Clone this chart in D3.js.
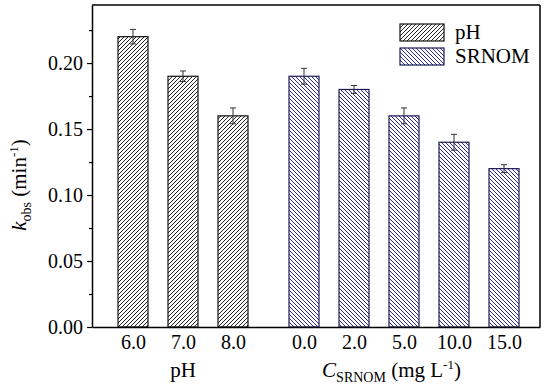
<!DOCTYPE html>
<html>
<head>
<meta charset="utf-8">
<script src="https://cdn.jsdelivr.net/npm/d3@7"></script>
<style>
  body { margin: 0; background: #fff; }
  svg text { font-family: "Liberation Serif", serif !important; fill: #000; }
</style>
</head>
<body>
<svg id="chart"></svg>
<script>
// Data
const phLabels = ['6.0', '7.0', '8.0'];
const phValues = [0.220, 0.190, 0.160];
const phErrors = [0.0055, 0.004, 0.006];

const srnomLabels = ['0.0', '2.0', '5.0', '10.0', '15.0'];
const srnomValues = [0.190, 0.180, 0.160, 0.140, 0.120];
const srnomErrors = [0.006, 0.003, 0.006, 0.006, 0.003];

const yTicks = [0.00, 0.05, 0.10, 0.15, 0.20];
const seriesNames = ['pH', 'SRNOM'];

const serif = 'Liberation Serif';

// Dimensions
const W = 550, H = 387;
const margin = { top: 5, right: 10, bottom: 60, left: 92 };
const width = W - margin.left - margin.right;
const height = H - margin.top - margin.bottom;

const svg = d3.select('#chart')
    .attr('width', W)
    .attr('height', H)
    .attr('font-family', serif);

// hatch patterns
const defs = svg.append('defs');
defs.append('pattern')
    .attr('id', 'hatchPH')
    .attr('patternUnits', 'userSpaceOnUse')
    .attr('width', 4).attr('height', 4)
    .append('path')
    .attr('d', 'M-1,1 l2,-2 M0,4 l4,-4 M3,5 l2,-2')
    .attr('stroke', '#222').attr('stroke-width', 1);
defs.append('pattern')
    .attr('id', 'hatchSR')
    .attr('patternUnits', 'userSpaceOnUse')
    .attr('width', 4).attr('height', 4)
    .append('path')
    .attr('d', 'M-1,3 l2,2 M0,0 l4,4 M3,-1 l2,2')
    .attr('stroke', '#2a2aa0').attr('stroke-width', 1);

const g = svg.append('g')
    .attr('transform', `translate(${margin.left},${margin.top})`);

// x in "bar slot" units, the SRNOM group is shifted to leave a gap
const slot = 50;
const firstOffset = 0.82;
const groupGap = 0.42;
const xScale = d3.scaleLinear()
    .domain([0, width / slot])
    .range([0, width]);

const bars = [];
phValues.forEach((v, i) => bars.push({ label: phLabels[i], value: v, err: phErrors[i], series: 'pH', pos: firstOffset + i }));
srnomValues.forEach((v, i) => bars.push({ label: srnomLabels[i], value: v, err: srnomErrors[i], series: 'SRNOM', pos: firstOffset + phValues.length + groupGap + i }));

const yScale = d3.scaleLinear()
    .domain([0, 0.244])
    .range([height, 0]);

const barW = xScale(0.6) - xScale(0);

// bars
g.selectAll('.bar')
    .data(bars)
    .enter()
    .append('rect')
    .attr('class', 'bar')
    .attr('x', d => xScale(d.pos) - barW / 2)
    .attr('y', d => yScale(d.value))
    .attr('width', barW)
    .attr('height', d => height - yScale(d.value))
    .attr('fill', d => d.series === 'pH' ? 'url(#hatchPH)' : 'url(#hatchSR)')
    .attr('stroke', d => d.series === 'pH' ? '#111' : '#1c1c55')
    .attr('stroke-width', 1.2);

// error bars
const eb = g.selectAll('.err')
    .data(bars)
    .enter()
    .append('g')
    .attr('class', 'err')
    .attr('stroke', '#333')
    .attr('stroke-width', 1);
eb.append('line')
    .attr('x1', d => xScale(d.pos)).attr('x2', d => xScale(d.pos))
    .attr('y1', d => yScale(d.value - d.err)).attr('y2', d => yScale(d.value + d.err));
eb.append('line')
    .attr('x1', d => xScale(d.pos) - 3).attr('x2', d => xScale(d.pos) + 3)
    .attr('y1', d => yScale(d.value + d.err)).attr('y2', d => yScale(d.value + d.err));
eb.append('line')
    .attr('x1', d => xScale(d.pos) - 3).attr('x2', d => xScale(d.pos) + 3)
    .attr('y1', d => yScale(d.value - d.err)).attr('y2', d => yScale(d.value - d.err));

// y axis with minor ticks
const minorTicks = d3.range(0.025, 0.244, 0.05);
g.append('g')
    .attr('class', 'axis-y-minor')
    .call(d3.axisLeft(yScale).tickValues(minorTicks).tickSize(3).tickFormat(''))
    .call(a => a.select('.domain').remove())
    .selectAll('line').attr('stroke', '#000').attr('stroke-width', 1.2);

const yAxis = g.append('g')
    .attr('class', 'axis-y')
    .call(d3.axisLeft(yScale).tickValues(yTicks).tickSize(5).tickSizeOuter(0).tickPadding(4).tickFormat(d3.format('.2f')))
    .attr('font-family', serif);
yAxis.select('.domain').attr('stroke', '#000').attr('stroke-width', 1.5);
yAxis.selectAll('.tick line').attr('stroke', '#000').attr('stroke-width', 1.2);
yAxis.selectAll('.tick text')
    .attr('font-family', serif)
    .attr('font-size', 20)
    .attr('dy', '0.34em');

// x axis, labels only
const xAxis = g.append('g')
    .attr('class', 'axis-x')
    .attr('transform', `translate(0,${height})`)
    .call(d3.axisBottom(xScale).tickValues(bars.map(d => d.pos)).tickSize(0).tickSizeOuter(0).tickPadding(8)
        .tickFormat((d, i) => bars[i].label))
    .attr('font-family', serif);
xAxis.select('.domain').attr('stroke', '#000').attr('stroke-width', 1.5);
xAxis.selectAll('.tick text').attr('font-family', serif).attr('font-size', 20).attr('dy', '0.71em');

// frame top and right
g.append('line').attr('x1', 0).attr('x2', width).attr('y1', 0).attr('y2', 0)
    .attr('stroke', '#000').attr('stroke-width', 1.5);
g.append('line').attr('x1', width).attr('x2', width).attr('y1', 0).attr('y2', height)
    .attr('stroke', '#000').attr('stroke-width', 1.5);

// axis titles
g.append('text')
    .attr('x', xScale(firstOffset + 1))
    .attr('y', height + 50)
    .attr('text-anchor', 'middle')
    .attr('font-size', 21)
    .text('pH');

const cTitle = g.append('text')
    .attr('x', xScale(firstOffset + phValues.length + groupGap + 1.75))
    .attr('y', height + 50)
    .attr('text-anchor', 'middle')
    .attr('font-size', 21);
cTitle.append('tspan').attr('font-style', 'italic').text('C');
cTitle.append('tspan').attr('font-size', 14).attr('dy', 5).text('SRNOM');
cTitle.append('tspan').attr('dy', -5).text(' (mg L');
cTitle.append('tspan').attr('font-size', 13).attr('dy', -8).text('-1');
cTitle.append('tspan').attr('dy', 8).text(')');

const yTitle = svg.append('text')
    .attr('transform', `translate(26,${margin.top + 180}) rotate(-90)`)
    .attr('text-anchor', 'middle')
    .attr('font-size', 21);
yTitle.append('tspan').attr('font-style', 'italic').text('k');
yTitle.append('tspan').attr('font-size', 14).attr('dy', 5).text('obs');
yTitle.append('tspan').attr('dy', -5).text(' (min');
yTitle.append('tspan').attr('font-size', 13).attr('dy', -8).text('-1');
yTitle.append('tspan').attr('dy', 8).text(')');

// legend
const legend = g.append('g')
    .attr('transform', `translate(${400 - margin.left},${24 - margin.top})`);
seriesNames.forEach((name, i) => {
    const row = legend.append('g').attr('transform', `translate(0,${i * 24})`);
    row.append('rect')
        .attr('width', 44).attr('height', 17)
        .attr('fill', i === 0 ? 'url(#hatchPH)' : 'url(#hatchSR)')
        .attr('stroke', i === 0 ? '#111' : '#1c1c55')
        .attr('stroke-width', 1.2);
    row.append('text')
        .attr('x', 55).attr('y', 15)
        .attr('font-size', 21)
        .text(name);
});
</script>
</body>
</html>
